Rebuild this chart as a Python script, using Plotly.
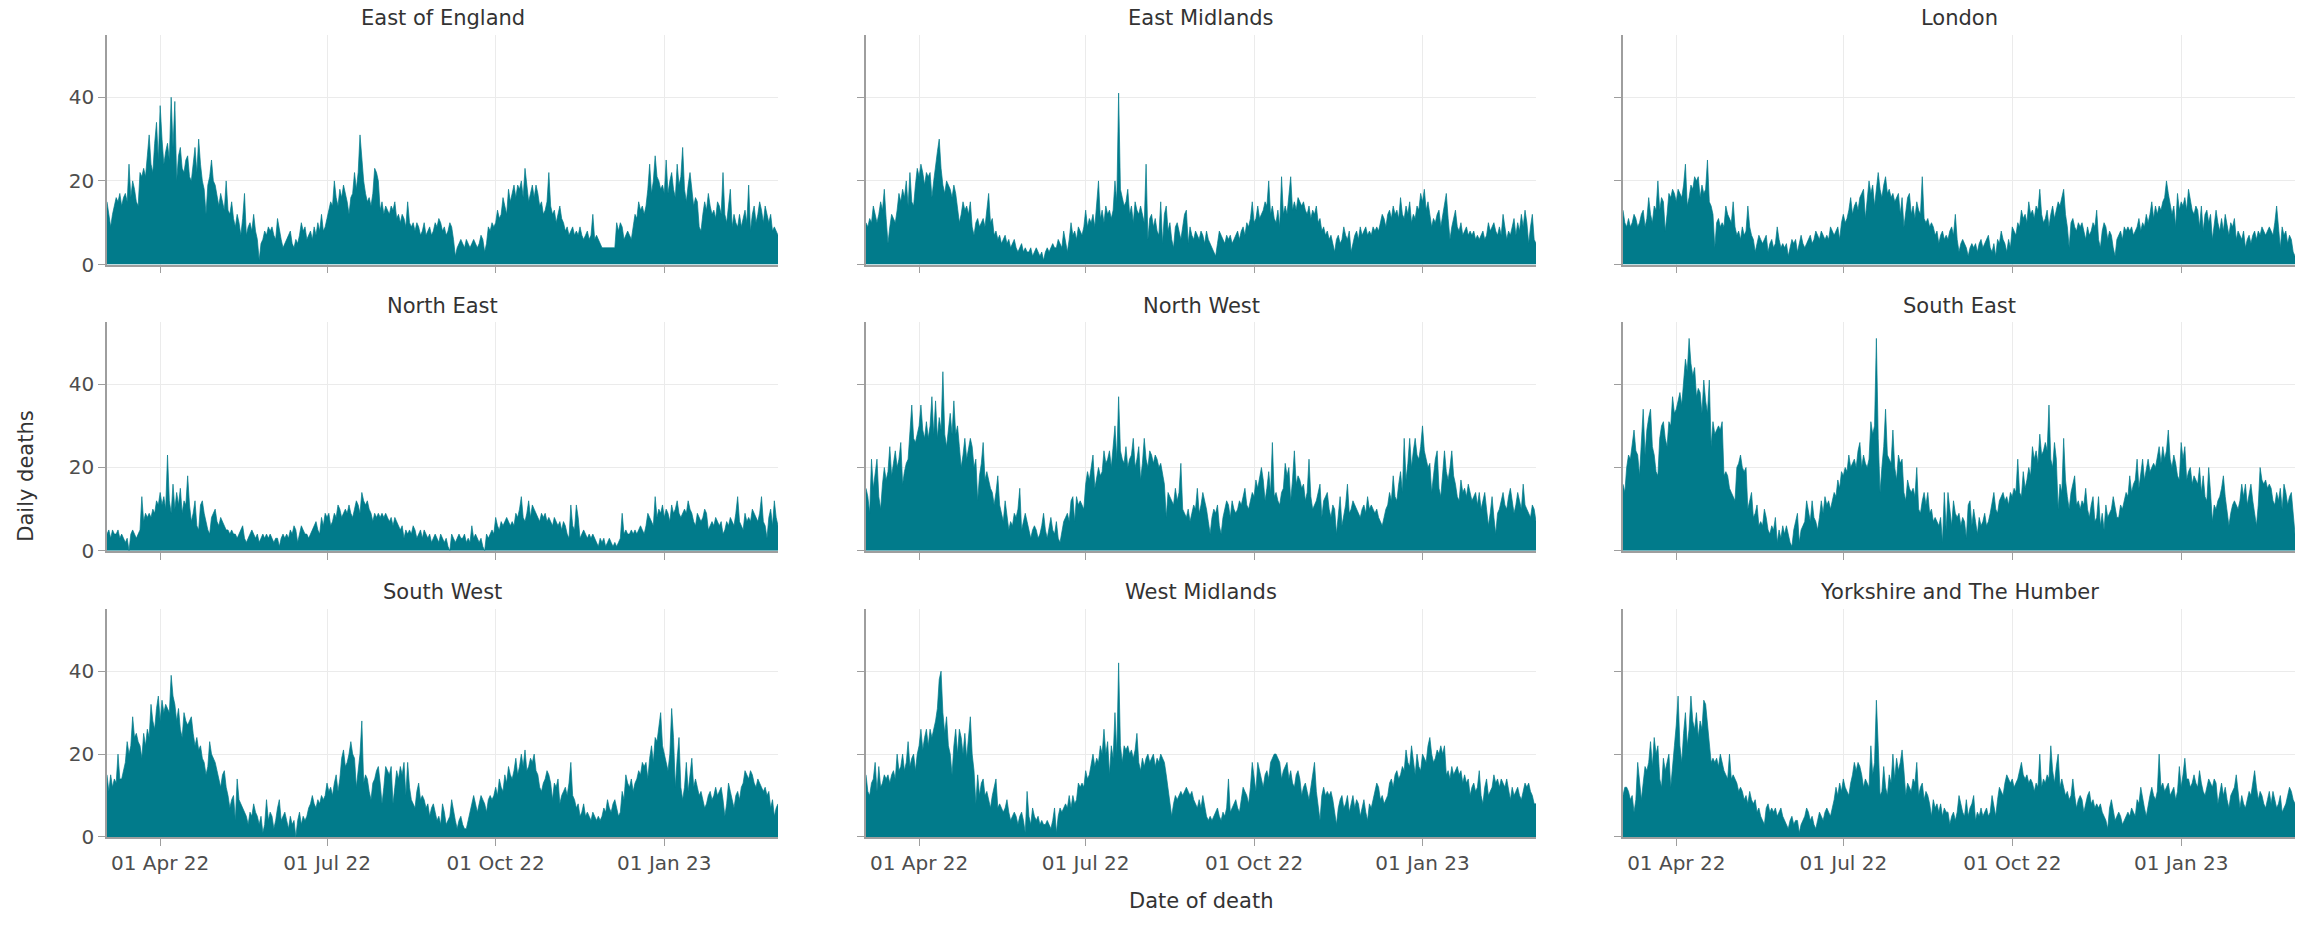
import pandas as pd
import plotly.graph_objects as go

# Daily deaths by region, 3 Mar 2022 onwards (one value per day)
start_date = "2022-03-03"

regions = [
    "East of England", "East Midlands", "London",
    "North East", "North West", "South East",
    "South West", "West Midlands", "Yorkshire and The Humber",
]

east_of_england = [
    15, 12, 9, 12, 14, 16, 15, 17, 14, 16, 17, 15, 24, 16, 20, 18, 15, 14, 22, 21,
    23, 21, 26, 31, 24, 22, 29, 34, 25, 38, 30, 24, 27, 29, 25, 40, 28, 39, 20, 26,
    28, 23, 22, 25, 26, 21, 20, 24, 28, 22, 30, 24, 20, 18, 12, 19, 21, 25, 20, 19,
    16, 14, 17, 15, 13, 20, 13, 12, 15, 11, 9, 12, 10, 7, 11, 17, 7, 9, 10, 8,
    12, 8, 6, 1, 5, 6, 8, 7, 9, 8, 9, 7, 6, 11, 8, 6, 4, 5, 6, 7,
    8, 5, 4, 6, 5, 7, 10, 8, 9, 6, 7, 8, 6, 9, 7, 10, 8, 12, 8, 9,
    11, 13, 15, 14, 20, 16, 14, 18, 16, 19, 17, 15, 12, 16, 17, 22, 18, 22, 31, 25,
    20, 17, 15, 16, 14, 17, 23, 22, 20, 13, 15, 12, 14, 13, 12, 14, 13, 15, 11, 12,
    10, 12, 11, 9, 15, 10, 9, 10, 8, 10, 9, 7, 8, 10, 7, 8, 9, 7, 8, 10,
    9, 11, 10, 8, 9, 7, 8, 10, 9, 6, 2, 4, 5, 6, 5, 4, 6, 5, 4, 5,
    6, 5, 4, 5, 7, 6, 3, 5, 9, 8, 10, 9, 10, 13, 11, 12, 16, 14, 12, 18,
    15, 17, 19, 16, 19, 18, 20, 16, 23, 19, 15, 17, 19, 16, 19, 17, 14, 15, 12, 13,
    15, 22, 14, 12, 13, 10, 12, 14, 11, 10, 8, 9, 7, 8, 9, 7, 8, 7, 9, 7,
    6, 7, 8, 6, 7, 12, 6, 7, 6, 5, 4, 4, 4, 4, 4, 4, 4, 4, 10, 8,
    10, 9, 6, 7, 8, 7, 6, 9, 12, 11, 15, 13, 14, 12, 14, 18, 24, 17, 20, 26,
    21, 20, 18, 19, 17, 25, 17, 20, 22, 18, 16, 24, 19, 21, 28, 18, 15, 19, 22, 18,
    14, 16, 15, 9, 8, 12, 15, 13, 17, 14, 12, 13, 11, 15, 14, 12, 22, 12, 10, 14,
    18, 9, 12, 10, 9, 12, 9, 11, 13, 10, 19, 8, 12, 14, 10, 12, 15, 13, 10, 14,
    12, 10, 12, 8, 9, 8, 7,
]

east_midlands = [
    10, 9, 11, 10, 14, 12, 10, 12, 15, 13, 18, 11, 5, 9, 12, 11, 10, 13, 17, 15,
    18, 16, 20, 14, 22, 15, 14, 19, 23, 21, 24, 22, 19, 22, 21, 22, 16, 20, 24, 27,
    30, 23, 19, 17, 20, 19, 18, 16, 19, 17, 13, 10, 12, 15, 13, 14, 12, 15, 9, 7,
    10, 11, 9, 10, 11, 9, 14, 17, 10, 11, 7, 8, 6, 7, 5, 6, 7, 5, 6, 4,
    5, 6, 4, 3, 4, 5, 3, 4, 3, 3, 4, 2, 3, 4, 3, 2, 3, 1, 3, 4,
    3, 4, 5, 4, 4, 6, 5, 4, 8, 5, 3, 6, 10, 7, 8, 6, 9, 8, 7, 9,
    13, 9, 11, 10, 12, 9, 14, 20, 11, 13, 10, 14, 12, 13, 11, 13, 20, 15, 41, 18,
    16, 14, 15, 18, 12, 14, 10, 15, 13, 12, 14, 12, 10, 24, 6, 11, 12, 9, 11, 8,
    7, 15, 5, 12, 14, 8, 10, 6, 4, 9, 10, 8, 6, 9, 12, 13, 5, 9, 7, 6,
    8, 7, 6, 8, 7, 5, 8, 6, 5, 4, 3, 2, 5, 8, 7, 6, 5, 7, 6, 7,
    5, 6, 7, 8, 6, 8, 9, 7, 10, 9, 11, 15, 10, 11, 14, 11, 12, 13, 15, 14,
    20, 12, 14, 11, 10, 13, 9, 21, 12, 14, 12, 16, 21, 13, 15, 13, 16, 15, 14, 15,
    13, 12, 14, 11, 13, 12, 14, 10, 11, 8, 9, 7, 8, 6, 7, 5, 3, 6, 7, 5,
    6, 9, 7, 6, 8, 3, 5, 7, 8, 6, 9, 7, 8, 9, 7, 8, 7, 9, 8, 9,
    8, 10, 12, 11, 9, 12, 13, 11, 14, 12, 13, 11, 16, 12, 11, 14, 12, 15, 10, 12,
    11, 14, 13, 17, 15, 18, 13, 15, 12, 9, 11, 10, 12, 13, 9, 12, 14, 17, 11, 6,
    9, 11, 13, 9, 8, 10, 7, 8, 9, 7, 8, 7, 8, 6, 7, 6, 7, 8, 6, 7,
    10, 8, 9, 10, 8, 7, 9, 7, 12, 9, 6, 8, 7, 9, 11, 7, 10, 8, 12, 9,
    13, 10, 5, 9, 12, 6, 5,
]

london = [
    13, 10, 9, 11, 9, 10, 12, 11, 9, 10, 12, 13, 9, 11, 16, 12, 10, 14, 13, 20,
    13, 16, 15, 8, 12, 17, 16, 18, 17, 15, 18, 17, 16, 19, 24, 14, 16, 19, 18, 21,
    20, 21, 16, 19, 17, 18, 25, 15, 14, 12, 4, 10, 11, 9, 10, 9, 14, 12, 11, 10,
    15, 9, 7, 8, 6, 9, 7, 8, 14, 9, 7, 6, 3, 5, 7, 6, 5, 6, 7, 3,
    5, 6, 4, 5, 9, 6, 4, 5, 4, 5, 2, 4, 6, 5, 6, 3, 5, 7, 5, 4,
    5, 6, 7, 5, 6, 8, 7, 6, 8, 7, 6, 7, 6, 9, 8, 7, 8, 9, 6, 10,
    12, 10, 11, 13, 16, 12, 14, 15, 13, 16, 17, 18, 11, 15, 20, 17, 19, 14, 18, 22,
    18, 16, 19, 21, 17, 18, 16, 17, 15, 16, 17, 12, 16, 9, 13, 16, 17, 12, 14, 11,
    15, 13, 12, 21, 11, 10, 11, 9, 10, 9, 7, 8, 5, 7, 8, 6, 7, 6, 8, 9,
    7, 12, 6, 3, 5, 6, 5, 4, 2, 4, 5, 4, 5, 3, 5, 6, 4, 5, 6, 7,
    4, 3, 5, 2, 6, 5, 8, 6, 5, 3, 6, 4, 9, 8, 7, 10, 9, 13, 11, 12,
    10, 15, 12, 13, 11, 14, 13, 18, 12, 10, 11, 13, 9, 12, 14, 11, 13, 15, 14, 16,
    18, 12, 9, 4, 10, 11, 9, 8, 10, 9, 10, 8, 6, 9, 7, 8, 10, 9, 13, 6,
    4, 8, 10, 9, 6, 8, 7, 4, 2, 6, 7, 8, 6, 9, 8, 9, 8, 9, 7, 8,
    9, 11, 8, 10, 9, 12, 10, 12, 15, 11, 14, 12, 14, 13, 15, 16, 20, 17, 14, 12,
    14, 9, 17, 13, 15, 14, 16, 13, 18, 15, 13, 12, 14, 13, 9, 14, 8, 12, 13, 10,
    12, 6, 9, 13, 10, 8, 11, 8, 12, 9, 7, 10, 9, 11, 6, 8, 7, 6, 8, 4,
    6, 7, 5, 7, 8, 6, 8, 7, 9, 8, 7, 8, 9, 8, 7, 10, 14, 9, 4, 9,
    7, 8, 5, 7, 6, 3, 2,
]

north_east = [
    4, 5, 3, 5, 4, 4, 5, 3, 4, 3, 2, 3, 0, 4, 5, 4, 3, 4, 5, 13,
    7, 9, 8, 9, 8, 10, 9, 12, 11, 14, 11, 13, 10, 23, 12, 9, 16, 10, 14, 11,
    15, 9, 12, 11, 18, 11, 7, 9, 12, 6, 5, 11, 12, 9, 7, 5, 4, 8, 9, 10,
    7, 6, 8, 7, 6, 5, 5, 4, 5, 4, 4, 3, 4, 5, 6, 3, 2, 3, 4, 5,
    4, 3, 4, 2, 3, 4, 3, 4, 3, 4, 3, 2, 3, 3, 1, 3, 4, 3, 4, 3,
    5, 4, 6, 5, 2, 4, 6, 5, 4, 4, 3, 4, 5, 6, 7, 5, 4, 8, 6, 9,
    8, 9, 6, 7, 9, 8, 11, 10, 8, 9, 10, 9, 11, 9, 8, 10, 12, 11, 9, 14,
    12, 11, 12, 10, 9, 7, 9, 8, 9, 8, 9, 8, 9, 8, 7, 8, 6, 8, 7, 6,
    5, 6, 3, 5, 4, 5, 4, 6, 5, 3, 4, 5, 3, 5, 4, 3, 4, 2, 3, 4,
    3, 2, 4, 3, 2, 3, 1, 0, 4, 3, 2, 3, 4, 3, 3, 4, 2, 3, 2, 6,
    3, 4, 3, 2, 3, 1, 0, 4, 3, 4, 5, 4, 8, 6, 5, 7, 6, 7, 8, 7,
    6, 7, 6, 9, 8, 10, 13, 8, 7, 9, 12, 8, 11, 10, 9, 8, 7, 9, 8, 9,
    7, 8, 7, 6, 8, 7, 6, 7, 5, 7, 6, 4, 3, 11, 6, 5, 11, 8, 3, 4,
    5, 4, 3, 4, 3, 4, 3, 2, 1, 3, 2, 3, 1, 2, 3, 2, 1, 2, 1, 2,
    3, 9, 4, 5, 4, 4, 5, 4, 5, 4, 5, 6, 5, 4, 6, 9, 8, 7, 6, 13,
    8, 10, 9, 11, 8, 10, 9, 7, 11, 9, 10, 12, 9, 8, 9, 10, 9, 12, 10, 9,
    7, 6, 9, 8, 7, 8, 10, 9, 5, 6, 7, 6, 8, 7, 6, 7, 4, 5, 7, 6,
    8, 7, 6, 9, 13, 7, 6, 5, 9, 7, 8, 7, 10, 9, 8, 7, 9, 13, 7, 6,
    3, 8, 10, 6, 12, 8, 6,
]

north_west = [
    15, 13, 9, 22, 15, 19, 22, 13, 10, 16, 20, 17, 19, 25, 18, 21, 24, 20, 22, 26,
    16, 19, 21, 22, 28, 35, 27, 26, 28, 30, 35, 29, 27, 31, 27, 30, 37, 28, 36, 27,
    32, 29, 43, 28, 25, 30, 33, 28, 36, 28, 30, 25, 20, 23, 27, 22, 25, 27, 25, 20,
    22, 12, 18, 21, 26, 17, 19, 17, 15, 14, 11, 14, 18, 11, 9, 7, 12, 8, 5, 7,
    6, 9, 8, 10, 15, 5, 7, 9, 7, 5, 3, 5, 6, 5, 3, 4, 6, 9, 5, 3,
    6, 8, 5, 4, 7, 3, 2, 5, 7, 8, 9, 7, 12, 13, 7, 13, 11, 12, 11, 10,
    16, 19, 17, 20, 23, 15, 18, 20, 18, 19, 24, 21, 22, 24, 20, 26, 30, 22, 37, 24,
    22, 21, 25, 20, 22, 23, 27, 20, 22, 25, 17, 21, 27, 22, 20, 24, 23, 21, 23, 22,
    20, 21, 18, 16, 8, 14, 13, 12, 11, 15, 12, 14, 21, 10, 9, 8, 10, 7, 9, 11,
    10, 15, 9, 11, 14, 12, 10, 7, 4, 8, 10, 9, 11, 6, 4, 8, 10, 12, 11, 8,
    12, 10, 9, 10, 12, 11, 13, 15, 11, 10, 12, 14, 13, 17, 15, 18, 20, 17, 12, 15,
    19, 14, 26, 13, 14, 12, 11, 14, 15, 21, 18, 20, 12, 17, 24, 16, 18, 17, 15, 16,
    12, 14, 22, 13, 10, 11, 12, 14, 16, 8, 12, 13, 14, 10, 8, 11, 10, 4, 9, 13,
    6, 9, 11, 16, 9, 10, 12, 11, 10, 9, 8, 10, 11, 9, 13, 10, 11, 10, 9, 10,
    8, 7, 6, 8, 10, 11, 14, 12, 18, 13, 12, 16, 19, 14, 27, 17, 21, 27, 20, 24,
    27, 23, 22, 25, 30, 24, 22, 20, 21, 14, 18, 22, 24, 15, 13, 18, 24, 19, 17, 20,
    24, 18, 16, 13, 12, 17, 14, 15, 13, 16, 14, 12, 13, 14, 11, 14, 10, 12, 14, 10,
    6, 9, 13, 8, 4, 9, 10, 12, 14, 11, 10, 13, 15, 12, 9, 11, 14, 12, 10, 16,
    11, 10, 9, 8, 11, 10, 7,
]

south_east = [
    16, 14, 20, 23, 22, 26, 29, 24, 23, 18, 28, 34, 23, 29, 32, 34, 25, 23, 19, 18,
    27, 30, 31, 27, 25, 31, 30, 37, 33, 34, 36, 38, 35, 40, 46, 43, 51, 45, 42, 44,
    37, 39, 38, 33, 41, 36, 33, 41, 25, 31, 28, 29, 30, 29, 31, 18, 19, 18, 15, 14,
    13, 12, 20, 21, 23, 20, 19, 20, 10, 12, 14, 8, 9, 11, 6, 7, 6, 10, 8, 5,
    4, 6, 5, 8, 2, 5, 3, 6, 4, 6, 4, 2, 1, 5, 7, 9, 2, 5, 6, 7,
    12, 9, 7, 12, 8, 7, 5, 8, 12, 9, 13, 11, 12, 10, 12, 14, 13, 17, 15, 19,
    18, 20, 19, 23, 20, 21, 22, 20, 24, 26, 20, 23, 21, 20, 22, 31, 28, 30, 51, 27,
    14, 20, 25, 34, 23, 22, 21, 29, 20, 17, 23, 21, 22, 14, 12, 17, 15, 14, 15, 13,
    20, 10, 9, 12, 14, 11, 14, 9, 10, 7, 8, 7, 6, 8, 2, 14, 5, 14, 10, 6,
    12, 9, 8, 9, 6, 8, 7, 3, 11, 12, 6, 10, 7, 4, 8, 6, 7, 9, 6, 7,
    9, 12, 14, 10, 9, 12, 13, 14, 12, 13, 11, 14, 13, 15, 14, 22, 14, 13, 19, 15,
    17, 20, 18, 25, 22, 24, 21, 28, 23, 24, 26, 24, 35, 22, 20, 26, 22, 10, 16, 14,
    27, 17, 13, 10, 14, 16, 18, 11, 12, 10, 12, 11, 15, 10, 8, 11, 13, 7, 8, 13,
    6, 9, 5, 11, 8, 9, 10, 13, 10, 8, 8, 11, 10, 12, 14, 13, 18, 14, 16, 17,
    22, 15, 18, 22, 17, 20, 22, 19, 20, 21, 20, 23, 25, 21, 25, 22, 24, 29, 22, 20,
    23, 21, 18, 17, 26, 22, 25, 17, 19, 20, 16, 18, 17, 16, 20, 14, 18, 13, 12, 20,
    14, 7, 11, 10, 12, 13, 15, 18, 13, 10, 6, 9, 11, 12, 11, 10, 12, 16, 13, 16,
    11, 14, 16, 12, 9, 6, 11, 20, 17, 16, 17, 15, 16, 15, 12, 11, 14, 12, 15, 10,
    16, 14, 11, 13, 14, 8, 4,
]

south_west = [
    15, 11, 15, 12, 14, 13, 20, 14, 14, 16, 18, 23, 20, 22, 29, 24, 25, 23, 22, 19,
    25, 22, 26, 24, 32, 28, 26, 31, 34, 28, 33, 30, 32, 31, 30, 39, 34, 32, 28, 31,
    26, 24, 30, 28, 27, 28, 29, 25, 22, 24, 21, 22, 19, 18, 15, 17, 23, 20, 19, 18,
    16, 14, 12, 15, 16, 12, 10, 7, 9, 10, 4, 14, 9, 8, 7, 6, 5, 3, 6, 5,
    8, 6, 5, 3, 5, 1, 3, 9, 4, 6, 5, 2, 4, 7, 9, 4, 5, 6, 4, 2,
    5, 3, 4, 0, 4, 6, 3, 5, 4, 5, 7, 8, 10, 8, 7, 9, 8, 10, 9, 10,
    13, 11, 12, 10, 13, 15, 11, 14, 19, 21, 17, 18, 20, 23, 20, 19, 12, 17, 20, 28,
    13, 15, 14, 11, 9, 13, 14, 16, 17, 13, 8, 12, 17, 16, 15, 17, 8, 12, 16, 14,
    17, 15, 18, 10, 18, 12, 9, 8, 7, 11, 13, 9, 10, 9, 7, 8, 5, 7, 8, 6,
    4, 5, 3, 8, 6, 3, 4, 5, 9, 6, 4, 2, 4, 5, 3, 2, 2, 4, 6, 8,
    10, 8, 6, 8, 10, 9, 8, 6, 9, 10, 9, 10, 12, 10, 14, 12, 11, 15, 13, 17,
    15, 14, 16, 19, 15, 17, 20, 17, 21, 16, 17, 19, 18, 20, 16, 15, 12, 11, 13, 14,
    16, 15, 13, 9, 13, 12, 14, 8, 10, 11, 12, 10, 13, 18, 10, 9, 7, 8, 5, 6,
    8, 5, 6, 5, 4, 6, 5, 4, 5, 4, 5, 7, 6, 9, 7, 6, 8, 9, 7, 5,
    6, 11, 9, 15, 13, 12, 14, 11, 13, 14, 16, 15, 18, 17, 18, 14, 19, 22, 18, 24,
    23, 26, 30, 22, 20, 18, 16, 20, 31, 24, 12, 19, 24, 12, 9, 12, 18, 11, 16, 19,
    12, 14, 12, 10, 11, 9, 7, 8, 10, 11, 9, 10, 12, 10, 11, 12, 9, 5, 8, 13,
    11, 9, 7, 10, 11, 9, 12, 13, 16, 15, 14, 16, 15, 13, 12, 14, 13, 12, 11, 12,
    10, 11, 7, 9, 5, 7, 8,
]

west_midlands = [
    15, 11, 10, 13, 14, 18, 11, 17, 12, 13, 15, 14, 15, 13, 15, 16, 14, 20, 16, 17,
    20, 16, 18, 23, 17, 19, 20, 16, 20, 22, 26, 21, 24, 26, 22, 26, 24, 26, 28, 31,
    38, 40, 30, 25, 29, 22, 20, 15, 22, 26, 20, 26, 24, 20, 25, 19, 25, 29, 20, 16,
    8, 15, 10, 13, 14, 10, 11, 9, 7, 10, 12, 14, 7, 8, 7, 6, 7, 9, 6, 4,
    5, 6, 5, 3, 5, 6, 4, 1, 11, 5, 3, 7, 5, 4, 5, 3, 4, 3, 3, 4,
    3, 2, 4, 7, 1, 5, 7, 6, 7, 8, 7, 10, 7, 10, 8, 9, 13, 12, 13, 12,
    16, 14, 15, 18, 20, 17, 19, 18, 22, 20, 26, 20, 23, 15, 22, 19, 30, 20, 42, 22,
    18, 22, 21, 22, 20, 21, 19, 21, 25, 18, 16, 19, 17, 19, 20, 18, 19, 20, 17, 19,
    18, 20, 19, 18, 15, 12, 9, 5, 8, 10, 9, 10, 11, 10, 11, 12, 11, 10, 11, 9,
    8, 7, 9, 7, 10, 7, 5, 4, 5, 4, 5, 6, 7, 5, 4, 6, 5, 7, 14, 6,
    7, 8, 9, 7, 6, 9, 12, 11, 10, 8, 12, 18, 15, 11, 18, 16, 14, 12, 15, 16,
    14, 18, 19, 20, 20, 19, 18, 14, 16, 17, 18, 14, 16, 13, 12, 15, 16, 14, 10, 12,
    13, 11, 9, 12, 15, 18, 11, 7, 4, 10, 12, 10, 11, 10, 11, 9, 6, 3, 7, 9,
    10, 7, 8, 10, 6, 8, 10, 7, 9, 8, 5, 7, 9, 6, 4, 8, 7, 9, 11, 13,
    12, 9, 10, 8, 9, 10, 13, 14, 12, 15, 16, 14, 15, 17, 16, 21, 18, 17, 22, 18,
    15, 20, 17, 16, 20, 19, 18, 22, 24, 20, 18, 19, 21, 20, 22, 20, 22, 15, 16, 14,
    17, 15, 16, 17, 15, 16, 13, 15, 13, 14, 10, 12, 13, 11, 12, 16, 10, 8, 12, 14,
    10, 11, 12, 15, 13, 14, 12, 14, 13, 12, 14, 11, 9, 12, 10, 11, 12, 10, 9, 11,
    13, 12, 13, 11, 10, 8, 8,
]

yorkshire_humber = [
    10, 12, 12, 11, 9, 10, 6, 9, 18, 13, 9, 13, 17, 16, 18, 23, 17, 24, 20, 22,
    14, 12, 19, 16, 18, 20, 12, 18, 22, 27, 34, 22, 18, 25, 30, 22, 26, 34, 28, 26,
    30, 24, 28, 26, 33, 32, 27, 22, 18, 19, 18, 19, 17, 20, 18, 16, 15, 14, 20, 14,
    15, 14, 13, 11, 12, 11, 9, 10, 8, 11, 9, 8, 9, 6, 7, 5, 4, 3, 7, 8,
    6, 7, 6, 7, 5, 6, 7, 5, 4, 3, 2, 4, 5, 3, 4, 4, 1, 3, 4, 5,
    7, 6, 4, 5, 3, 2, 4, 6, 5, 4, 6, 7, 6, 5, 7, 9, 12, 10, 13, 11,
    14, 12, 11, 10, 13, 15, 18, 16, 18, 17, 15, 12, 14, 13, 12, 22, 15, 18, 33, 22,
    10, 11, 17, 12, 10, 15, 13, 20, 14, 19, 16, 18, 21, 16, 10, 13, 12, 11, 14, 13,
    18, 10, 12, 13, 9, 11, 10, 8, 5, 9, 7, 8, 6, 8, 5, 7, 6, 6, 3, 5,
    6, 4, 6, 10, 8, 6, 5, 9, 5, 7, 8, 10, 4, 6, 5, 7, 5, 6, 7, 5,
    6, 10, 7, 5, 9, 12, 11, 10, 13, 15, 14, 13, 14, 12, 13, 14, 16, 18, 15, 14,
    15, 13, 14, 13, 11, 13, 12, 20, 12, 14, 13, 15, 14, 22, 16, 13, 17, 20, 12, 14,
    12, 10, 11, 9, 10, 14, 10, 7, 9, 10, 9, 6, 8, 10, 11, 8, 9, 7, 8, 7,
    8, 6, 5, 4, 2, 7, 9, 6, 4, 5, 6, 5, 3, 4, 5, 6, 5, 7, 6, 5,
    9, 8, 12, 9, 7, 5, 8, 10, 12, 10, 9, 11, 20, 12, 13, 11, 12, 13, 10, 11,
    12, 9, 11, 17, 12, 15, 19, 14, 14, 12, 13, 15, 13, 12, 16, 13, 11, 10, 12, 14,
    13, 12, 14, 13, 8, 11, 13, 10, 12, 9, 7, 10, 11, 12, 15, 10, 7, 10, 8, 7,
    9, 11, 10, 13, 16, 12, 9, 11, 10, 8, 7, 9, 11, 8, 11, 9, 7, 8, 10, 6,
    7, 8, 10, 12, 11, 9, 8,
]

series = [
    east_of_england, east_midlands, london,
    north_east, north_west, south_east,
    south_west, west_midlands, yorkshire_humber,
]

tick_dates = ["2022-04-01", "2022-07-01", "2022-10-01", "2023-01-01"]
tick_labels = ["01 Apr 22", "01 Jul 22", "01 Oct 22", "01 Jan 23"]
y_ticks = [0, 20, 40]

TEAL = "#017B8B"
GRID = "#ebebeb"
AXIS = "#9e9e9e"
FONT = "DejaVu Sans"

W, H = 2308, 925
# panel positions in pixels: (left, right) per column, (top, bottom) per row
col_px = [(107, 778), (866, 1536), (1623, 2295)]
row_px = [(35, 268), (326, 558), (617, 848)]
title_y_px = [18, 310, 600]

fig = go.Figure()
end_date = pd.Timestamp(start_date) + pd.Timedelta(days=366)

for i, (name, vals) in enumerate(zip(regions, series)):
    r, c = divmod(i, 3)
    k = i + 1
    dates = pd.date_range(start_date, periods=len(vals), freq="D")
    fig.add_trace(go.Scatter(
        x=dates, y=vals, mode="lines", fill="tozeroy",
        line=dict(color=TEAL, width=0.7), fillcolor=TEAL,
        xaxis=f"x{k}", yaxis=f"y{k}", showlegend=False,
        hovertemplate="%{x|%d %b %y}: %{y}<extra>" + name + "</extra>",
    ))
    xd = [col_px[c][0] / W, col_px[c][1] / W]
    yd = [1 - row_px[r][1] / H, 1 - row_px[r][0] / H]
    fig.update_layout({
        f"xaxis{k}": dict(
            domain=xd, anchor=f"y{k}", type="date",
            range=[pd.Timestamp(start_date), end_date],
            tickvals=tick_dates, ticktext=tick_labels,
            showticklabels=(r == 2),
            showgrid=True, gridcolor=GRID, gridwidth=1,
            showline=True, linecolor=AXIS, linewidth=1.5,
            ticks="outside", ticklen=7, tickcolor=AXIS, tickwidth=1.3,
            zeroline=False,
            tickfont=dict(family=FONT, size=20, color="#4d4d4d"),
        ),
        f"yaxis{k}": dict(
            domain=yd, anchor=f"x{k}",
            range=[0, 55], tickvals=y_ticks,
            showticklabels=(c == 0),
            showgrid=True, gridcolor=GRID, gridwidth=1,
            showline=True, linecolor=AXIS, linewidth=1.5,
            ticks="outside", ticklen=7, tickcolor=AXIS, tickwidth=1.3,
            zeroline=False,
            tickfont=dict(family=FONT, size=20, color="#4d4d4d"),
        ),
    })
    fig.add_annotation(
        text=name, xref="paper", yref="paper",
        x=(xd[0] + xd[1]) / 2, y=1 - title_y_px[r] / H,
        xanchor="center", yanchor="middle", showarrow=False,
        font=dict(family=FONT, size=21, color="#333333"),
    )

fig.add_annotation(
    text="Date of death", xref="paper", yref="paper",
    x=1201 / W, y=1 - 913 / H, xanchor="center", yanchor="middle",
    showarrow=False, font=dict(family=FONT, size=21, color="#333333"),
)
fig.add_annotation(
    text="Daily deaths", xref="paper", yref="paper",
    x=26 / W, y=1 - 483 / H, xanchor="center", yanchor="middle",
    textangle=-90, showarrow=False,
    font=dict(family=FONT, size=21, color="#333333"),
)

fig.update_layout(
    width=W, height=H,
    margin=dict(l=0, r=0, t=0, b=0),
    paper_bgcolor="white", plot_bgcolor="white",
    font=dict(family=FONT, color="#333333"),
)

fig.write_html("out.html")
